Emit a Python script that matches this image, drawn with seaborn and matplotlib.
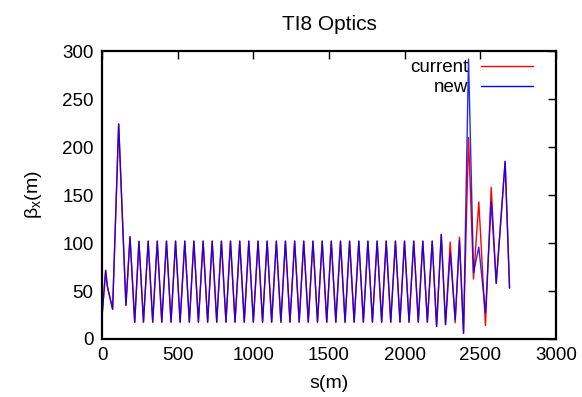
import matplotlib
matplotlib.use("Agg")
import matplotlib.pyplot as plt
import seaborn as sns
import pandas as pd

# s positions (m) of the turning points
s_common = [0, 24, 35, 70, 110, 158, 185, 216,
            244, 274, 305, 335, 365, 395, 426, 456, 486, 516, 547, 577,
            607, 637, 668, 698, 728, 758, 789, 819, 849, 879, 910, 940,
            970, 1000, 1031, 1061, 1091, 1121, 1152, 1182, 1212, 1242,
            1273, 1303, 1333, 1363, 1394, 1424, 1455, 1485, 1515, 1545,
            1576, 1606, 1636, 1666, 1697, 1727, 1757, 1787, 1818, 1848,
            1878, 1908, 1939, 1969, 1999, 2029, 2060, 2090, 2120, 2150, 2182]
beta_common = [23.5, 71.5, 55, 31, 224, 35, 106.5, 17.3,
               101.8, 17.5, 102, 17.5, 102, 17.5, 102, 17.5, 102, 17.5, 102, 17.5,
               102, 17.5, 102, 17.5, 102, 17.5, 102, 17.5, 102, 17.5, 102, 17.5,
               102, 17.5, 102, 17.5, 102, 17.5, 102, 17.5, 102, 17.5,
               102, 17.5, 102, 17.5, 102, 17.5, 102, 17.5, 102, 17.5,
               102, 17.5, 102, 17.5, 102, 17.5, 102, 17.5, 102, 17.5,
               102, 17.5, 102, 17.5, 102, 17.5, 102, 17.5, 102, 17.5, 102]

s_tail = [2211, 2242, 2270, 2301, 2334, 2362, 2389, 2422, 2455, 2490,
          2534, 2572, 2605, 2664, 2693]
beta_current_tail = [13, 109, 15, 101, 17, 106, 6, 210, 62.5, 142.7,
                     14, 158, 58, 185, 53]
beta_new_tail = [13, 109, 15, 89.6, 20, 102.5, 6, 291.6, 69, 95.8,
                 27.7, 142.7, 58, 185, 53]

current = pd.DataFrame({"s": s_common + s_tail, "beta": beta_common + beta_current_tail})
new = pd.DataFrame({"s": s_common + s_tail, "beta": beta_common + beta_new_tail})

sns.set_style("white")
plt.rcParams['font.family'] = ['Liberation Sans', 'DejaVu Sans']
plt.rcParams['mathtext.default'] = 'regular'
plt.rcParams['text.color'] = 'black'
plt.rcParams['axes.labelcolor'] = 'black'

fig = plt.figure(figsize=(5.82, 3.97), dpi=100)
ax = fig.add_axes([0.1753, 0.1461, 0.78, 0.7254])

sns.lineplot(data=current, x="s", y="beta", color="#ff0000", lw=1.0,
             label="current", estimator=None, sort=False, ax=ax)
sns.lineplot(data=new, x="s", y="beta", color="#0000ff", lw=1.0, alpha=0.85,
             label="new", estimator=None, sort=False, ax=ax)

ax.set_xlim(0, 3000)
ax.set_ylim(0, 300)
ax.set_xticks(range(0, 3001, 500))
ax.set_yticks(range(0, 301, 50))
ax.tick_params(direction="in", top=True, right=True, length=6, width=1,
               labelsize=13.5, pad=6, colors="black")
for sp in ax.spines.values():
    sp.set_linewidth(1.6)
    sp.set_color("black")

ax.set_title("TI8 Optics", fontsize=15, pad=15, color="black")
ax.set_xlabel("s(m)", fontsize=14, labelpad=8)
ax.set_ylabel("β$_x$(m)", fontsize=14, labelpad=13)

# markerfirst=False right-aligns the entries, like gnuplot's key
leg = ax.legend(loc="upper right", bbox_to_anchor=(0.958, 0.985),
                frameon=False, markerfirst=False,
                fontsize=13.5, handlelength=2.8, handletextpad=0.65,
                labelspacing=0.15, borderaxespad=0.0, borderpad=0.2)
for h in leg.get_lines():
    h.set_alpha(1)
for t in leg.get_texts():
    t.set_color("black")

fig.savefig("out.png", dpi=100)
